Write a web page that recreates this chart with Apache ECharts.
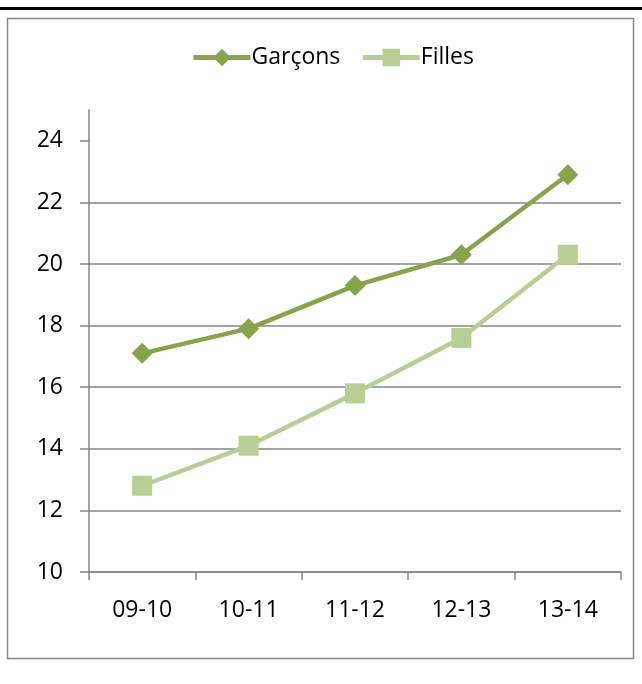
<!DOCTYPE html>
<html>
<head>
<meta charset="utf-8">
<script src="https://cdn.jsdelivr.net/npm/echarts@6/dist/echarts.min.js"></script>
<style>
html,body{margin:0;padding:0;background:#fff;}
#main{width:642px;height:684px;}
</style>
</head>
<body>
<div id="main"></div>
<script>
var categories = ['09-10', '10-11', '11-12', '12-13', '13-14'];
var garcons = [17.1, 17.9, 19.3, 20.3, 22.9];
var filles = [12.8, 14.1, 15.8, 17.6, 20.3];
var yTicks = [10, 12, 14, 16, 18, 20, 22, 24];

var gray = '#868686';
var font = 'Open Sans';
var chart = echarts.init(document.getElementById('main'));
chart.setOption({
  animation: false,
  backgroundColor: '#fff',
  textStyle: { fontFamily: font },
  graphic: [
    { type: 'rect', shape: { x: 0, y: 7, width: 642, height: 3 }, style: { fill: '#000' }, silent: true },
    { type: 'rect', shape: { x: 7.5, y: 18.5, width: 626, height: 640 }, style: { fill: 'none', stroke: gray, lineWidth: 1.5 }, silent: true }
  ],
  legend: {
    left: 186,
    top: 41,
    itemWidth: 57,
    itemHeight: 22,
    itemGap: 20,
    lineStyle: { width: 5 },
    textStyle: { fontFamily: font, fontSize: 23, color: '#000', padding: [0, 0, 0, -4] },
    data: ['Garçons', 'Filles']
  },
  grid: { left: 89, right: 21, top: 110, bottom: 112 },
  xAxis: {
    type: 'category',
    data: categories,
    boundaryGap: true,
    axisLine: { show: true, lineStyle: { color: gray, width: 1.5 } },
    axisTick: { show: true, length: 8, lineStyle: { color: gray, width: 1.5 } },
    axisLabel: { fontFamily: font, fontSize: 23, color: '#000', margin: 27 },
    splitLine: { show: false }
  },
  yAxis: {
    type: 'value',
    min: 10,
    max: 25,
    interval: 2,
    axisLine: { show: true, lineStyle: { color: gray, width: 1.5 } },
    axisTick: { show: true, length: 9, lineStyle: { color: gray, width: 1.5 }, customValues: yTicks },
    axisLabel: { fontFamily: font, fontSize: 23, color: '#000', margin: 26, customValues: yTicks },
    splitLine: { show: true, showMaxLine: false, lineStyle: { color: gray, width: 1.5 } }
  },
  series: [
    {
      name: 'Garçons',
      type: 'line',
      data: garcons,
      symbol: 'diamond',
      symbolSize: 21,
      lineStyle: { color: '#87A34B', width: 4.5 },
      itemStyle: { color: '#87A34B' }
    },
    {
      name: 'Filles',
      type: 'line',
      data: filles,
      symbol: 'rect',
      symbolSize: 20,
      lineStyle: { color: '#B9CE95', width: 4.5 },
      itemStyle: { color: '#B9CE95' }
    }
  ]
});
</script>
</body>
</html>
